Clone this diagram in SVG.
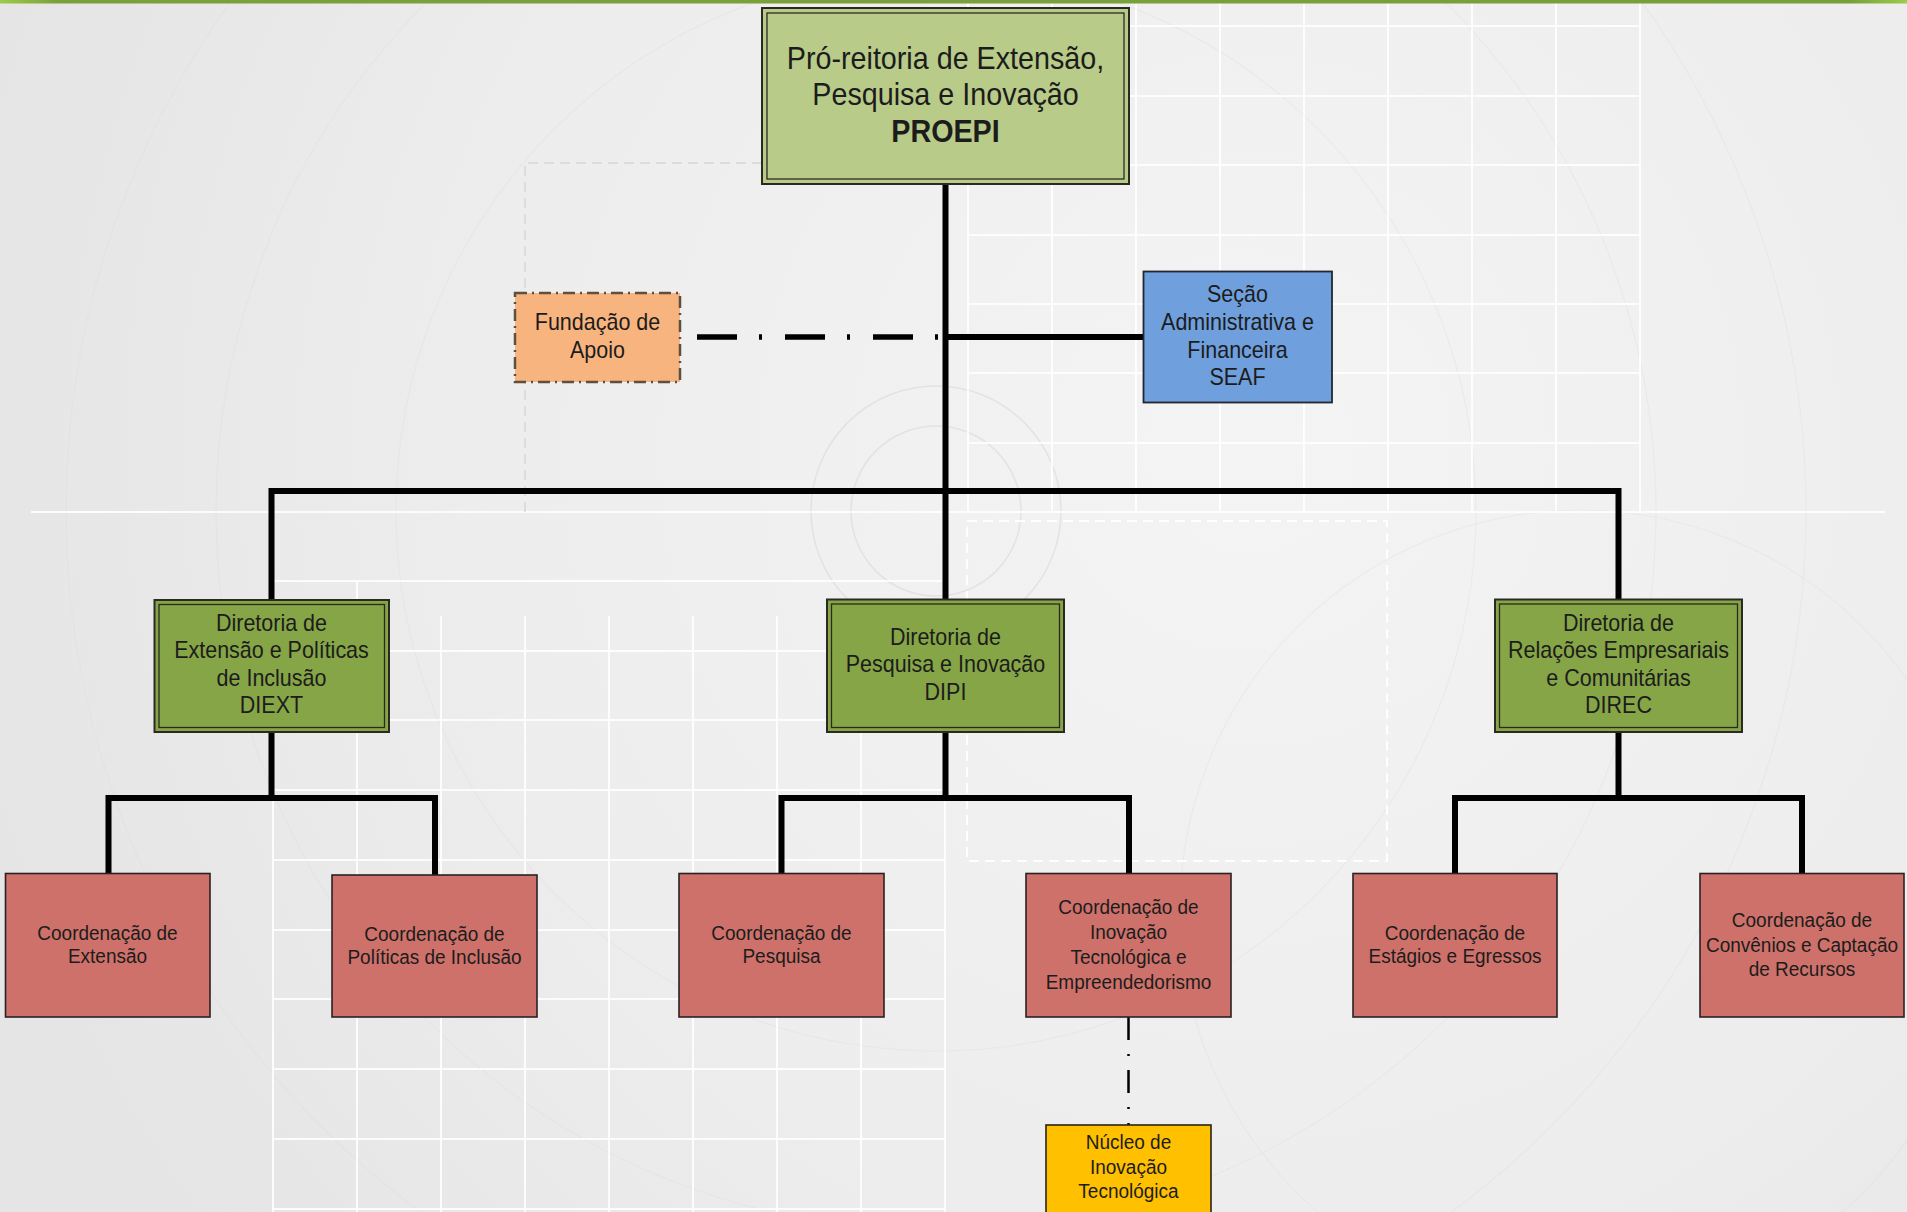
<svg xmlns="http://www.w3.org/2000/svg" width="1907" height="1212" viewBox="0 0 1907 1212">
  <defs>
    <radialGradient id="bg" cx="1250" cy="450" r="1300" gradientUnits="userSpaceOnUse">
      <stop offset="0" stop-color="#f4f4f4"/>
      <stop offset="0.6" stop-color="#ededed"/>
      <stop offset="1" stop-color="#e5e5e5"/>
    </radialGradient>
    <linearGradient id="topbar" x1="0" y1="0" x2="1907" y2="0" gradientUnits="userSpaceOnUse">
      <stop offset="0" stop-color="#9ccc4a"/>
      <stop offset="0.03" stop-color="#7aa03c"/>
      <stop offset="0.97" stop-color="#76a03a"/>
      <stop offset="1" stop-color="#9ccc4a"/>
    </linearGradient>
  </defs>
  <style>
    .grid { stroke: #ffffff; stroke-width: 2; opacity: 0.85; fill: none; }
    .arc { stroke: #d9d9d9; stroke-width: 1.5; fill: none; opacity: 0.6; }
    .arcf { stroke: #dcdcdc; stroke-width: 1.2; fill: none; opacity: 0.3; }
    .conn { stroke: #000000; stroke-width: 6; fill: none; }
    .t { font-family: "Liberation Sans", Arial, sans-serif; fill: #1c1c1c; text-anchor: middle;
         transform-box: fill-box; transform-origin: center; transform: scaleY(1.07); }
    .t29 { font-size: 28.7px; }
    .t21 { font-size: 21.5px; }
    .t19 { font-size: 19px; }
    .b { font-weight: bold; }
    .dbl-o { stroke: #2a2a22; stroke-width: 2; }
    .dbl-i { fill: none; stroke: #2a2a22; stroke-width: 1.3; }
    .coord { fill: #cd716a; stroke: #2a2222; stroke-width: 1.6; }
  </style>

  <!-- background -->
  <rect x="0" y="0" width="1907" height="1212" fill="url(#bg)"/>
  <g id="background">
    <circle class="arc" cx="936" cy="511" r="85"/>
    <circle class="arc" cx="936" cy="511" r="125"/>
    <circle class="arcf" cx="936" cy="511" r="540"/>
    <circle class="arcf" cx="936" cy="511" r="720"/>
    <circle class="arcf" cx="936" cy="511" r="870"/>
    <circle class="arcf" cx="1580" cy="910" r="400"/>
    <!-- upper right grid -->
    <path class="grid" d="M968 0V512M1052 0V512M1136 0V512M1220 0V512M1304 0V512M1388 0V512M1472 0V512M1556 0V512M1640 0V512"/>
    <path class="grid" d="M968 26H1640M968 96H1640M968 165H1640M968 235H1640M968 304H1640M968 373H1640M968 443H1640"/>
    <!-- lower left grid -->
    <path class="grid" d="M273 581V1212M357 581V1212M441 616V1212M525 616V1212M609 616V1212M693 616V1212M777 616V1212M861 616V1212M945 581V1212"/>
    <path class="grid" d="M273 581H945M273 651H945M273 720H945M273 790H945M273 860H945M273 930H945M273 999H945M273 1069H945M273 1139H945M273 1209H945"/>
    <path class="grid" d="M31 512H1885"/>
    <path d="M967 521H1387V861H967Z" fill="none" stroke="#ffffff" stroke-width="2" stroke-dasharray="10 6" opacity="0.9"/>
    <path d="M525 512V163H762" fill="none" stroke="#d6d6d6" stroke-width="1.5" stroke-dasharray="10 6"/>
  </g>
  <rect x="0" y="0" width="1907" height="3.5" fill="url(#topbar)"/>

  <!-- connectors -->
  <g id="connectors">
    <path class="conn" d="M945.5 184V599"/>
    <path class="conn" d="M945.5 337H1143.5"/>
    <path d="M697 337H942" stroke="#000" stroke-width="5.5" fill="none" stroke-dasharray="40 22 3 23"/>
    <path class="conn" d="M271.5 600V491H1618.5V599"/>
    <path class="conn" d="M271.5 732V798"/>
    <path class="conn" d="M108.5 873V798H435V875"/>
    <path class="conn" d="M945.5 732V798"/>
    <path class="conn" d="M781.5 873V798H1129V873"/>
    <path class="conn" d="M1618.5 732V798"/>
    <path class="conn" d="M1455 873V798H1802V873"/>
    <path d="M1128.5 1017V1125" stroke="#000" stroke-width="2.5" fill="none" stroke-dasharray="23 14 2 14"/>
  </g>

  <!-- nodes -->
  <g id="proepi">
    <rect class="dbl-o" x="762" y="8" width="367" height="176" fill="#b8cb88"/>
    <rect class="dbl-i" x="767" y="13" width="357" height="166"/>
    <text class="t t29" x="945.5" y="68">Pró-reitoria de Extensão,</text>
    <text class="t t29" x="945.5" y="104.5">Pesquisa e Inovação</text>
    <text class="t t29 b" x="945.5" y="141">PROEPI</text>
  </g>

  <g id="fundacao">
    <rect x="515" y="293" width="165" height="89" fill="#f8b47e" stroke="#5e4f40" stroke-width="2.5" stroke-dasharray="12 5 2 5"/>
    <text class="t t21" x="597.5" y="330">Fundação de</text>
    <text class="t t21" x="597.5" y="357">Apoio</text>
  </g>

  <g id="seaf">
    <rect x="1143.5" y="271.5" width="188.5" height="131" fill="#6f9fdc" stroke="#22262e" stroke-width="1.8"/>
    <text class="t t21" x="1237.5" y="302">Seção</text>
    <text class="t t21" x="1237.5" y="329.5">Administrativa e</text>
    <text class="t t21" x="1237.5" y="357">Financeira</text>
    <text class="t t21" x="1237.5" y="384.5">SEAF</text>
  </g>

  <g id="diext">
    <rect class="dbl-o" x="154.5" y="600" width="234.5" height="132" fill="#86a546"/>
    <rect class="dbl-i" x="159" y="604.5" width="225.5" height="123"/>
    <text class="t t21" x="271.5" y="630">Diretoria de</text>
    <text class="t t21" x="271.5" y="657.5">Extensão e Políticas</text>
    <text class="t t21" x="271.5" y="685">de Inclusão</text>
    <text class="t t21" x="271.5" y="712.5">DIEXT</text>
  </g>

  <g id="dipi">
    <rect class="dbl-o" x="827" y="599.5" width="237" height="132.5" fill="#86a546"/>
    <rect class="dbl-i" x="831.5" y="604" width="228" height="123.5"/>
    <text class="t t21" x="945.5" y="644.5">Diretoria de</text>
    <text class="t t21" x="945.5" y="672">Pesquisa e Inovação</text>
    <text class="t t21" x="945.5" y="699.5">DIPI</text>
  </g>

  <g id="direc">
    <rect class="dbl-o" x="1495" y="599.5" width="247" height="132.5" fill="#86a546"/>
    <rect class="dbl-i" x="1499.5" y="604" width="238" height="123.5"/>
    <text class="t t21" x="1618.5" y="630">Diretoria de</text>
    <text class="t t21" x="1618.5" y="657.5">Relações Empresariais</text>
    <text class="t t21" x="1618.5" y="685">e Comunitárias</text>
    <text class="t t21" x="1618.5" y="712.5">DIREC</text>
  </g>

  <g id="coord-extensao">
    <rect class="coord" x="5.5" y="873.5" width="204.5" height="143.5"/>
    <text class="t t19" x="107.5" y="940">Coordenação de</text>
    <text class="t t19" x="107.5" y="963">Extensão</text>
  </g>

  <g id="coord-politicas">
    <rect class="coord" x="332" y="875" width="205" height="142"/>
    <text class="t t19" x="434.5" y="940.5">Coordenação de</text>
    <text class="t t19" x="434.5" y="963.5">Políticas de Inclusão</text>
  </g>

  <g id="coord-pesquisa">
    <rect class="coord" x="679" y="873.5" width="205" height="143.5"/>
    <text class="t t19" x="781.5" y="940">Coordenação de</text>
    <text class="t t19" x="781.5" y="963">Pesquisa</text>
  </g>

  <g id="coord-inovacao">
    <rect class="coord" x="1026" y="873.5" width="205" height="143.5"/>
    <text class="t t19" x="1128.5" y="913.5">Coordenação de</text>
    <text class="t t19" x="1128.5" y="938.5">Inovação</text>
    <text class="t t19" x="1128.5" y="963.5">Tecnológica e</text>
    <text class="t t19" x="1128.5" y="988.5">Empreendedorismo</text>
  </g>

  <g id="coord-estagios">
    <rect class="coord" x="1353" y="873.5" width="204" height="143.5"/>
    <text class="t t19" x="1455" y="940">Coordenação de</text>
    <text class="t t19" x="1455" y="963">Estágios e Egressos</text>
  </g>

  <g id="coord-convenios">
    <rect class="coord" x="1700" y="873.5" width="204" height="143.5"/>
    <text class="t t19" x="1802" y="927">Coordenação de</text>
    <text class="t t19" x="1802" y="951.5">Convênios e Captação</text>
    <text class="t t19" x="1802" y="975.5">de Recursos</text>
  </g>

  <g id="nucleo">
    <rect x="1046" y="1125" width="165" height="95" fill="#ffc000" stroke="#2a2418" stroke-width="1.6"/>
    <text class="t t19" x="1128.5" y="1149">Núcleo de</text>
    <text class="t t19" x="1128.5" y="1174">Inovação</text>
    <text class="t t19" x="1128.5" y="1198">Tecnológica</text>
  </g>
</svg>
